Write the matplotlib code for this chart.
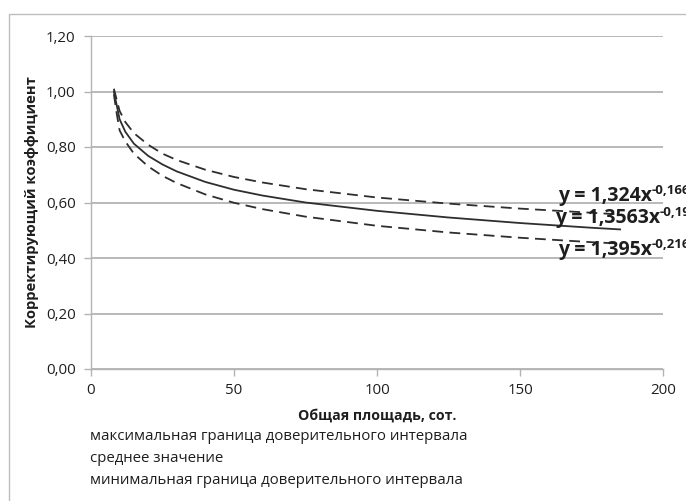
import matplotlib
matplotlib.use("Agg")
import matplotlib.pyplot as plt
from matplotlib.patches import Rectangle

plt.rcParams['font.family'] = ['Open Sans', 'DejaVu Sans']

# площадь, сот.
area = [8, 9, 10, 12, 15, 20, 25, 30, 40, 50, 60, 75, 100, 125, 150, 175, 185]
# максимальная граница доверительного интервала
upper = [1.01, 0.97, 0.93, 0.89, 0.85, 0.808, 0.776, 0.753, 0.718, 0.692, 0.672,
         0.648, 0.618, 0.596, 0.578, 0.563, 0.557]
# среднее значение
mean = [1.00, 0.95, 0.90, 0.855, 0.812, 0.768, 0.737, 0.712, 0.674, 0.646, 0.625,
        0.600, 0.570, 0.546, 0.526, 0.509, 0.503]
# минимальная граница доверительного интервала
lower = [0.99, 0.92, 0.86, 0.82, 0.776, 0.730, 0.696, 0.670, 0.629, 0.599, 0.576,
         0.549, 0.516, 0.492, 0.473, 0.457, 0.452]

eq_main = ['y = 1,324x', 'y = 1,3563x', 'y = 1,395x']
eq_pow = ['-0,166', '-0,19', '-0,216']
legend_labels = ['максимальная граница доверительного интервала',
                 'среднее значение',
                 'минимальная граница доверительного интервала']

W, H = 686, 501
fig = plt.figure(figsize=(W / 100, H / 100), dpi=100)
ax = fig.add_axes([91 / W, 1 - 369 / H, (663 - 91) / W, (369 - 36) / H])

grid_c = '#b3b3b3'
line_c = '#2e2e2e'
text_c = '#1e1e1e'

ax.plot(area, upper, color=line_c, lw=1.3, ls=(0, (6, 3.5)))
ax.plot(area, mean, color=line_c, lw=1.3)
ax.plot(area, lower, color=line_c, lw=1.3, ls=(0, (6, 3.5)))

ax.set_xlim(0, 200)
ax.set_ylim(0, 1.2)
ax.set_xticks([0, 50, 100, 150, 200])
ax.set_yticks([0, 0.2, 0.4, 0.6, 0.8, 1.0, 1.2])
ax.set_yticklabels([f'{v:.2f}'.replace('.', ',') for v in ax.get_yticks()])
ax.grid(axis='y', color=grid_c, lw=1.3)
ax.set_axisbelow(True)
for s in ['top', 'right']:
    ax.spines[s].set_visible(False)
for s in ['left', 'bottom']:
    ax.spines[s].set_color(grid_c)
    ax.spines[s].set_linewidth(1.0)
ax.tick_params(axis='both', colors=grid_c, length=5, width=1.0, labelcolor=text_c,
               labelsize=10.8)
ax.tick_params(axis='y', pad=6)
ax.tick_params(axis='x', pad=5)

ax.set_ylabel('Корректирующий коэффициент', fontsize=10.6, fontweight='bold',
              color=text_c, labelpad=5)
ax.set_xlabel('Общая площадь, сот.', fontsize=10.2, fontweight='bold',
              color=text_c, labelpad=8)

# trendline equations
eq_pos = [(558, 196), (555, 218), (558, 250)]
for (px, py), main, pw in zip(eq_pos, eq_main, eq_pow):
    t = fig.text(px / W, 1 - py / H, main, fontsize=14, fontweight='bold',
                 color=text_c, va='center', ha='left')
    ax.annotate(pw, xy=(1, 0.75), xycoords=t, fontsize=9.5, fontweight='bold',
                color=text_c, va='center', ha='left', annotation_clip=False)

# legend text
for i, lab in enumerate(legend_labels):
    fig.text(90 / W, 1 - (437 + 22 * i) / H, lab, fontsize=10.8, color=text_c,
             va='center', ha='left')

# outer chart border
fig.patches.append(Rectangle((9 / W, -0.1), 1.2, 1 - 14 / H + 0.1,
                             transform=fig.transFigure, fill=False,
                             edgecolor='#bdbdbd', lw=1.0))

fig.savefig('out.png', dpi=100)
